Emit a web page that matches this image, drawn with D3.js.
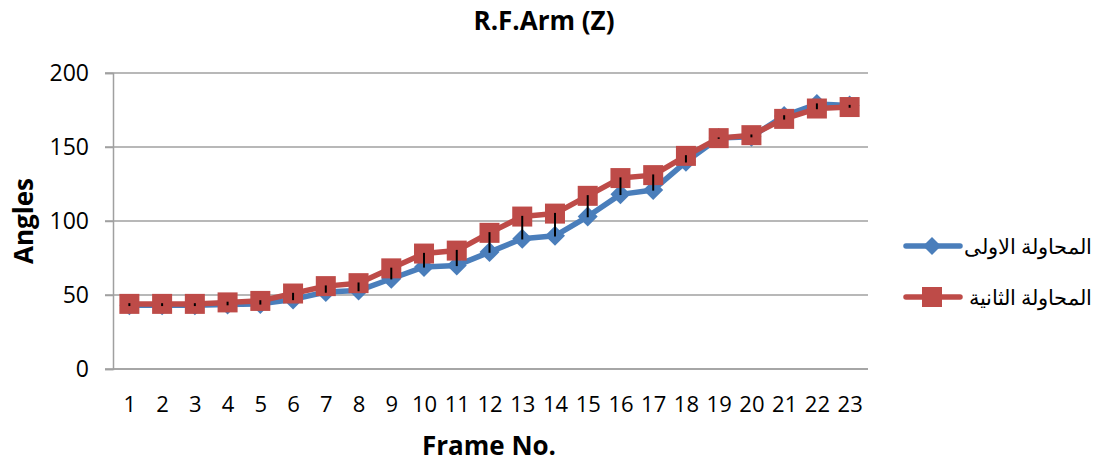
<!DOCTYPE html>
<html>
<head>
<meta charset="utf-8">
<script src="https://cdn.jsdelivr.net/npm/d3@7"></script>
<style>
  body { margin: 0; background: #fff; }
  text { font-family: "Open Sans", sans-serif; fill: #000; }
</style>
</head>
<body>
<div id="chart"></div>
<script>
// chart data
const frames = d3.range(1, 24);
const firstTry = [43, 43, 43, 43.5, 44, 47, 52, 53, 61, 69, 70, 79, 88, 90, 103, 118, 121, 140, 156, 157, 171, 179, 178];
const secondTry = [44, 44, 44, 45, 46, 51, 56, 58, 68, 78, 80, 92, 103, 105, 117, 129, 131, 144, 156, 158, 169, 176, 177];
const seriesNames = ["المحاولة الاولى", "المحاولة الثانية"];
const yTicks = [0, 50, 100, 150, 200];

const width = 1098, height = 462;
const plot = { left: 113, right: 866, top: 73, bottom: 369 };

const svg = d3.select("#chart")
    .append("svg")
    .attr("width", width)
    .attr("height", height);

const x = d3.scalePoint()
    .domain(frames)
    .range([plot.left, plot.right])
    .padding(0.5);

const y = d3.scaleLinear()
    .domain([0, 200])
    .range([plot.bottom, plot.top]);

// gridlines
svg.append("g")
    .selectAll("line")
    .data(yTicks)
    .enter()
    .append("line")
    .attr("x1", plot.left - 8)
    .attr("x2", plot.right + 2)
    .attr("y1", d => y(d))
    .attr("y2", d => y(d))
    .attr("stroke", "#a0a0a0")
    .attr("stroke-width", 1.5);

// y axis
const yAxis = svg.append("g")
    .attr("transform", `translate(${plot.left}, 0)`)
    .call(d3.axisLeft(y).tickValues(yTicks).tickSize(8).tickPadding(16));
yAxis.select(".domain").attr("stroke", "#a0a0a0").attr("stroke-width", 1.5);
yAxis.selectAll(".tick line").attr("stroke", "#a0a0a0").attr("stroke-width", 1.5);
yAxis.selectAll("text").attr("font-size", "23px").attr("font-family", "Open Sans").attr("fill", "#000");

// x axis
const xAxis = svg.append("g")
    .attr("transform", `translate(0, ${plot.bottom})`)
    .call(d3.axisBottom(x).tickSize(0).tickPadding(27));
xAxis.select(".domain").attr("d", `M${plot.left},0H${plot.right + 2}`)
    .attr("stroke", "#a0a0a0").attr("stroke-width", 1.5);
xAxis.selectAll("text").attr("font-size", "22px").attr("font-family", "Open Sans").attr("fill", "#000");

const blue = "#4a7ebb", red = "#be4b48";

const line = d3.line()
    .x((d, i) => x(frames[i]))
    .y(d => y(d));

// first attempt
svg.append("path")
    .datum(firstTry)
    .attr("fill", "none")
    .attr("stroke", blue)
    .attr("stroke-width", 5.5)
    .attr("stroke-linejoin", "round")
    .attr("d", line);

svg.append("g")
    .selectAll("path")
    .data(firstTry)
    .enter()
    .append("path")
    .attr("transform", (d, i) => `translate(${x(frames[i])}, ${y(d)})`)
    .attr("d", "M0,-10L10,0L0,10L-10,0Z")
    .attr("fill", blue);

// second attempt
svg.append("path")
    .datum(secondTry)
    .attr("fill", "none")
    .attr("stroke", red)
    .attr("stroke-width", 5.5)
    .attr("stroke-linejoin", "round")
    .attr("d", line);

svg.append("g")
    .selectAll("rect")
    .data(secondTry)
    .enter()
    .append("rect")
    .attr("x", (d, i) => x(frames[i]) - 10)
    .attr("y", d => y(d) - 10)
    .attr("width", 20)
    .attr("height", 20)
    .attr("fill", red);

// high-low lines
svg.append("g")
    .selectAll("line")
    .data(frames)
    .enter()
    .append("line")
    .attr("x1", d => x(d))
    .attr("x2", d => x(d))
    .attr("y1", (d, i) => y(Math.max(firstTry[i], secondTry[i])) - 0.7)
    .attr("y2", (d, i) => y(Math.min(firstTry[i], secondTry[i])) + 0.7)
    .attr("stroke", "#000")
    .attr("stroke-width", 2);

// titles
svg.append("text")
    .attr("x", 544)
    .attr("y", 30)
    .attr("text-anchor", "middle")
    .attr("font-size", "26px")
    .attr("font-weight", "bold")
    .text("R.F.Arm (Z)");

svg.append("text")
    .attr("x", 489)
    .attr("y", 455)
    .attr("text-anchor", "middle")
    .attr("font-size", "26px")
    .attr("font-weight", "bold")
    .text("Frame No.");

svg.append("text")
    .attr("transform", "translate(33, 221) rotate(-90)")
    .attr("text-anchor", "middle")
    .attr("font-size", "26px")
    .attr("font-weight", "bold")
    .text("Angles");

// legend
const legend = svg.append("g");
const legendRows = [
    { name: seriesNames[0], color: blue, shape: "diamond", y: 246 },
    { name: seriesNames[1], color: red, shape: "square", y: 297 }
];
legendRows.forEach(r => {
    legend.append("line")
        .attr("x1", 906).attr("x2", 960)
        .attr("y1", r.y).attr("y2", r.y)
        .attr("stroke", r.color)
        .attr("stroke-width", 5.5)
        .attr("stroke-linecap", "round");
    if (r.shape === "diamond") {
        legend.append("path")
            .attr("transform", `translate(932, ${r.y})`)
            .attr("d", "M0,-9L9,0L0,9L-9,0Z")
            .attr("fill", r.color);
    } else {
        legend.append("rect")
            .attr("x", 922).attr("y", r.y - 10)
            .attr("width", 20).attr("height", 20)
            .attr("fill", r.color);
    }
    legend.append("text")
        .attr("x", 1092)
        .attr("y", r.y + 8)
        .attr("text-anchor", "end")
        .attr("font-family", "DejaVu Sans")
        .attr("font-size", "21px")
        .text(r.name);
});
</script>
</body>
</html>
